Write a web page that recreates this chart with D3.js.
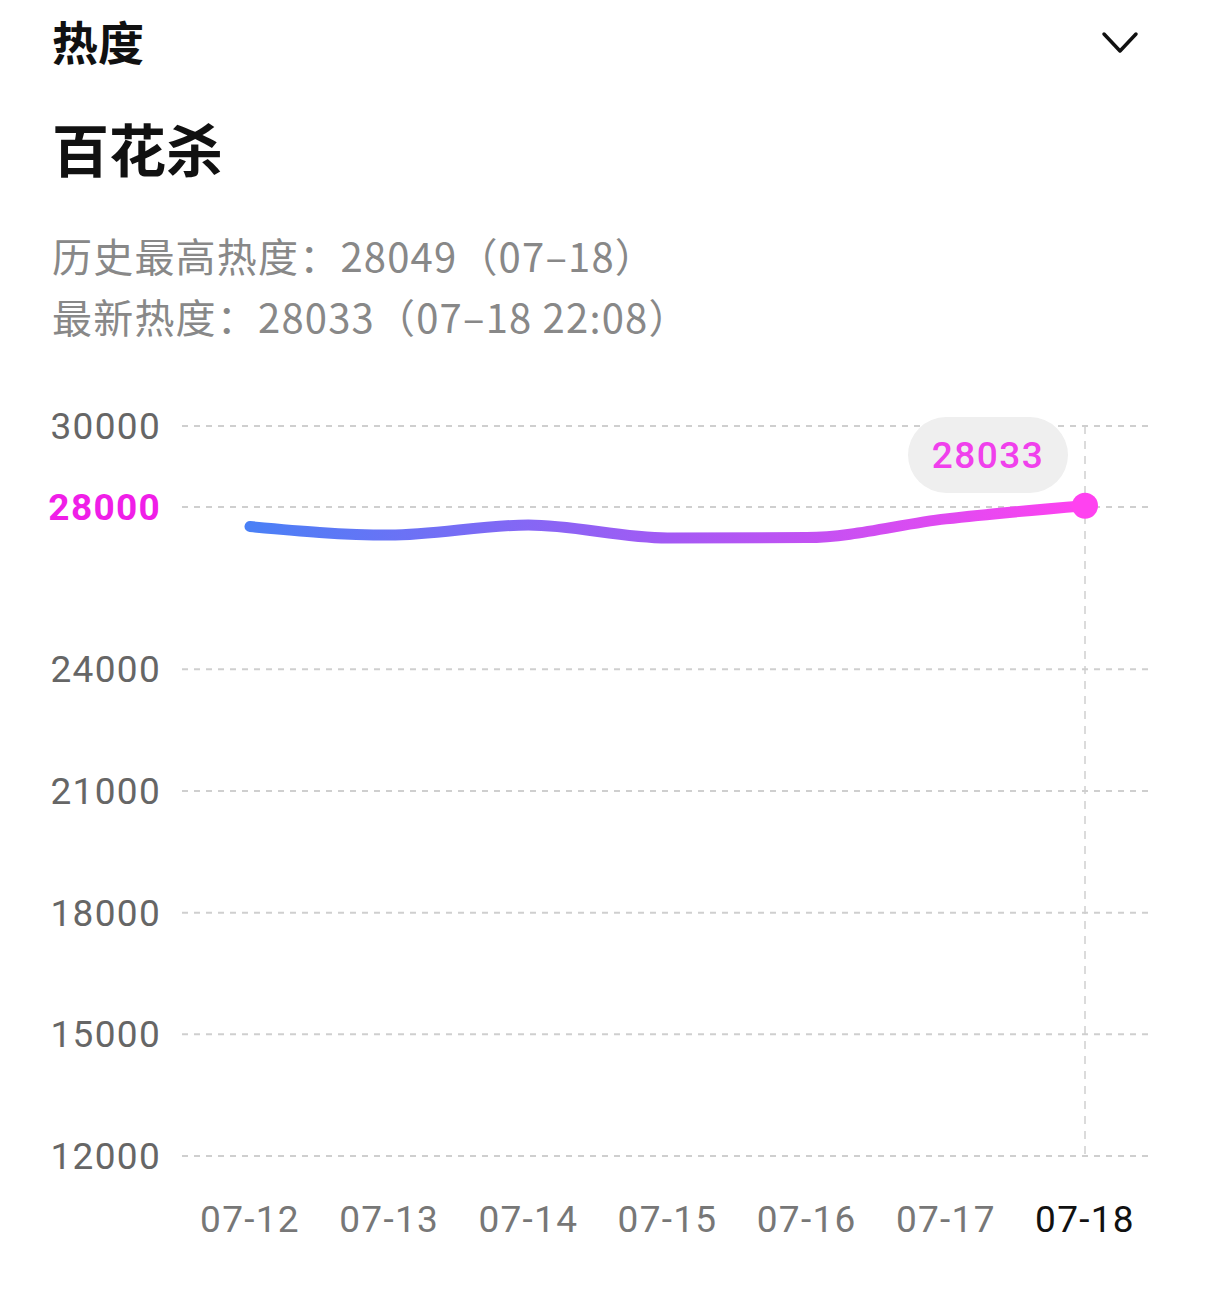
<!DOCTYPE html>
<html>
  <head>
    <meta charset="UTF-8" />
    <title>热度</title>
    <script src="https://d3js.org/d3.v7.min.js"></script>
    <style>
      body { margin: 0; background: #fff; }
      svg text { font-family: Roboto, "Noto Sans CJK SC", sans-serif; }
      .grid { stroke: #cfcfcf; stroke-width: 2px; stroke-dasharray: 6 6; }
    </style>
  </head>
  <body>
    <svg id="chart" width="1206" height="1294"></svg>

    <script>
      // data
      var dates = ['07-12', '07-13', '07-14', '07-15', '07-16', '07-17', '07-18'];
      var heat = [27520, 27310, 27560, 27240, 27250, 27710, 28033];
      var yTicks = [12000, 15000, 18000, 21000, 24000, 28000, 30000];
      var highlightTick = 28000;

      var svg = d3.select('#chart');

      // header texts
      svg.append('text').attr('x', 52).attr('y', 60)
        .attr('font-size', 46).attr('font-weight', 'bold').attr('fill', '#111')
        .style('font-family', '"Noto Sans CJK SC"').text('热度');
      svg.append('path').attr('d', 'M1104,34 L1120,51 L1136,34')
        .attr('fill', 'none').attr('stroke', '#111').attr('stroke-width', 3.5)
        .attr('stroke-linecap', 'round').attr('stroke-linejoin', 'round');
      svg.append('text').attr('x', 52).attr('y', 172)
        .attr('font-size', 57).attr('font-weight', 'bold').attr('fill', '#111')
        .style('font-family', '"Noto Sans CJK SC"').text('百花杀');
      svg.append('text').attr('x', 52).attr('y', 272)
        .attr('font-size', 40).attr('letter-spacing', 1.2).attr('fill', '#888')
        .style('font-family', '"Noto Sans CJK SC"').text('历史最高热度：28049（07–18）');
      svg.append('text').attr('x', 52).attr('y', 333)
        .attr('font-size', 40).attr('letter-spacing', 1.2).attr('fill', '#888')
        .style('font-family', '"Noto Sans CJK SC"').text('最新热度：28033（07–18 22:08）');

      // scales
      var x = d3.scalePoint().domain(dates).range([250, 1085]);
      var y = d3.scaleLinear().domain([12000, 30000]).range([1156, 426]);

      // horizontal grid
      svg.append('g').selectAll('line').data(yTicks).join('line')
        .attr('class', 'grid')
        .attr('x1', 182).attr('x2', 1150)
        .attr('y1', function (d) { return y(d); })
        .attr('y2', function (d) { return y(d); });

      // y labels
      svg.append('g').selectAll('text').data(yTicks).join('text')
        .attr('x', 161)
        .attr('y', function (d) { return y(d) + 13; })
        .attr('text-anchor', 'end')
        .attr('font-size', 37)
        .attr('letter-spacing', 1.3)
        .attr('font-weight', function (d) { return d === highlightTick ? 'bold' : 'normal'; })
        .attr('fill', function (d) { return d === highlightTick ? '#f01ee8' : '#666'; })
        .text(function (d) { return d; });

      // x labels
      svg.append('g').selectAll('text').data(dates).join('text')
        .attr('x', function (d) { return x(d); })
        .attr('y', 1232)
        .attr('text-anchor', 'middle')
        .attr('font-size', 37)
        .attr('letter-spacing', 1.3)
        .attr('fill', function (d, i) { return i === dates.length - 1 ? '#111' : '#777'; })
        .text(function (d) { return d; });

      var last = dates.length - 1;

      // vertical marker line
      svg.append('line').attr('class', 'grid')
        .attr('x1', x(dates[last])).attr('x2', x(dates[last]))
        .attr('y1', y(30000)).attr('y2', y(12000))
        .style('stroke-width', 1.5).style('stroke-dasharray', '8 7');

      // gradient
      var grad = svg.append('defs').append('linearGradient')
        .attr('id', 'lineGrad').attr('gradientUnits', 'userSpaceOnUse')
        .attr('x1', x(dates[0])).attr('x2', x(dates[last]))
        .attr('y1', 0).attr('y2', 0);
      grad.append('stop').attr('offset', '0%').attr('stop-color', '#4a80f6');
      grad.append('stop').attr('offset', '50%').attr('stop-color', '#a35af4');
      grad.append('stop').attr('offset', '100%').attr('stop-color', '#ff42f0');

      var line = d3.line()
        .x(function (d, i) { return x(dates[i]); })
        .y(function (d) { return y(d); })
        .curve(d3.curveMonotoneX);

      svg.append('path').datum(heat)
        .attr('d', line)
        .attr('fill', 'none')
        .attr('stroke', 'url(#lineGrad)')
        .attr('stroke-width', 11)
        .attr('stroke-linecap', 'round');

      svg.append('circle')
        .attr('cx', x(dates[last])).attr('cy', y(heat[last]))
        .attr('r', 13).attr('fill', '#ff42f0');

      // tooltip pill
      var px = 988, py = 455;
      svg.append('rect')
        .attr('x', px - 80).attr('y', py - 38)
        .attr('width', 160).attr('height', 76)
        .attr('rx', 38).attr('fill', '#efefef');
      svg.append('text')
        .attr('x', px).attr('y', py + 13)
        .attr('text-anchor', 'middle')
        .attr('font-size', 37).attr('font-weight', 500)
        .attr('letter-spacing', 1.5)
        .attr('fill', '#f040ec')
        .text(heat[last]);
    </script>
  </body>
</html>
